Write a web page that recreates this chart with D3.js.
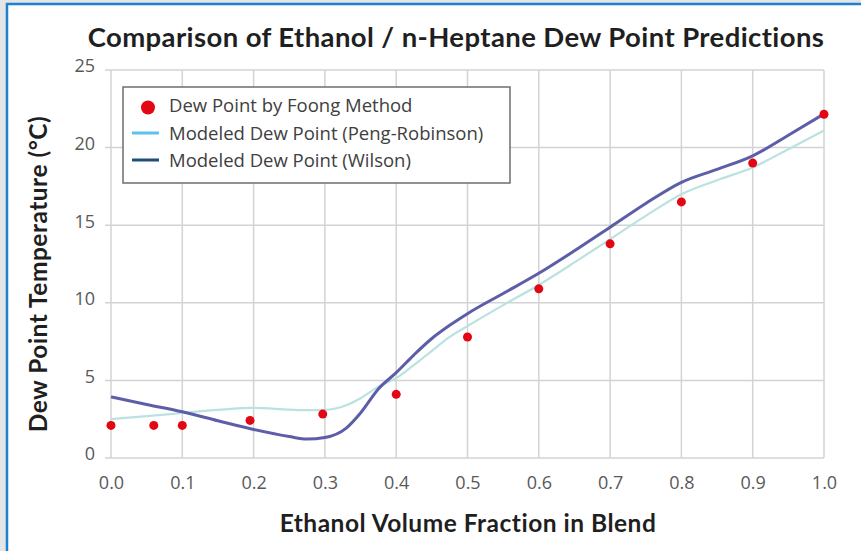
<!DOCTYPE html>
<html>
<head>
<meta charset="utf-8">
<script src="https://cdn.jsdelivr.net/npm/d3@7"></script>
<style>
  html, body { margin: 0; padding: 0; background: #e4e5e7; }
  svg { display: block; }
</style>
</head>
<body>
<div id="container"></div>
<script>
/* CONSTANTS AND GLOBALS */
const width = 861,
  height = 551,
  margin = { top: 70, bottom: 93, left: 111, right: 37 };

// measured dew points (Foong method)
const foongX = [0.0, 0.06, 0.1, 0.195, 0.297, 0.4, 0.5, 0.6, 0.7, 0.8, 0.9, 1.0];
const foongY = [2.1, 2.1, 2.1, 2.42, 2.83, 4.1, 7.8, 10.9, 13.8, 16.5, 19.0, 22.15];

// modeled curves
const modelX = [0, 0.05, 0.1, 0.15, 0.2, 0.25, 0.275, 0.3, 0.33, 0.35, 0.375, 0.4, 0.425, 0.45, 0.475, 0.5, 0.55, 0.6, 0.65, 0.7, 0.75, 0.8, 0.85, 0.9, 0.95, 1.0];
const pengY = [2.5, 2.7, 2.9, 3.1, 3.23, 3.12, 3.08, 3.1, 3.4, 3.85, 4.6, 5.15, 6.0, 6.9, 7.8, 8.5, 9.85, 11.15, 12.6, 14.1, 15.6, 17.0, 17.9, 18.72, 19.9, 21.1];
const wilsonY = [3.94, 3.45, 2.98, 2.4, 1.84, 1.38, 1.22, 1.32, 1.93, 2.9, 4.45, 5.5, 6.65, 7.7, 8.55, 9.3, 10.6, 11.9, 13.35, 14.87, 16.4, 17.76, 18.6, 19.47, 20.8, 22.17];

const xTicks = [0, 0.1, 0.2, 0.3, 0.4, 0.5, 0.6, 0.7, 0.8, 0.9, 1.0];
const yTicks = [0, 5, 10, 15, 20, 25];

const legendLabels = ["Dew Point by Foong Method", "Modeled Dew Point (Peng-Robinson)", "Modeled Dew Point (Wilson)"];

const colors = {
  dot: "#e30613",
  peng: "#b9e2e0",
  wilson: "#5c5ea8",
  pengLegend: "#5cc1ec",
  wilsonLegend: "#1f4e79"
};

const svg = d3.select("#container")
  .append("svg")
  .attr("width", width)
  .attr("height", height);

// frame
svg.append("rect")
  .attr("x", 7).attr("y", 4)
  .attr("width", width + 20).attr("height", height + 20)
  .attr("fill", "#ffffff")
  .attr("stroke", "#1f7fd3")
  .attr("stroke-width", 2.5);

/* SCALES */
const xScale = d3.scaleLinear()
  .domain([0, 1])
  .range([margin.left, width - margin.right]);

const yScale = d3.scaleLinear()
  .domain([0, 25])
  .range([height - margin.bottom, margin.top]);

// gridlines
svg.append("g")
  .selectAll("line.vgrid")
  .data(xTicks)
  .join("line")
  .attr("class", "vgrid")
  .attr("x1", d => xScale(d)).attr("x2", d => xScale(d))
  .attr("y1", yScale(25)).attr("y2", yScale(0))
  .attr("stroke", "#d3d3d3")
  .attr("stroke-width", 1.5);

svg.append("g")
  .selectAll("line.hgrid")
  .data(yTicks)
  .join("line")
  .attr("class", "hgrid")
  .attr("x1", xScale(0) - 6).attr("x2", xScale(1))
  .attr("y1", d => yScale(d)).attr("y2", d => yScale(d))
  .attr("stroke", "#d3d3d3")
  .attr("stroke-width", 1.5);

// axes (labels only)
const xAxis = d3.axisBottom(xScale).tickValues(xTicks).tickFormat(d3.format(".1f")).tickSize(0).tickPadding(18);
const yAxis = d3.axisLeft(yScale).tickValues(yTicks).tickSize(0).tickPadding(16);

const gx = svg.append("g")
  .attr("transform", `translate(0,${yScale(0)})`)
  .call(xAxis);
const gy = svg.append("g")
  .attr("transform", `translate(${xScale(0)},0)`)
  .call(yAxis);

[gx, gy].forEach(g => {
  g.select(".domain").remove();
  g.selectAll("text")
    .attr("fill", "#595959")
    .style("font-family", "'Open Sans', sans-serif")
    .style("font-size", "18px");
});
gy.selectAll("text").attr("dy", "0.1em");

// lines
const line = d3.line()
  .x(d => xScale(d[0]))
  .y(d => yScale(d[1]))
  .curve(d3.curveMonotoneX);

svg.append("path")
  .datum(modelX.map((x, i) => [x, pengY[i]]))
  .attr("d", line)
  .attr("fill", "none")
  .attr("stroke", colors.peng)
  .attr("stroke-width", 2.2);

svg.append("path")
  .datum(modelX.map((x, i) => [x, wilsonY[i]]))
  .attr("d", line)
  .attr("fill", "none")
  .attr("stroke", colors.wilson)
  .attr("stroke-width", 3);

// dots
svg.selectAll("circle.dot")
  .data(foongX.map((x, i) => [x, foongY[i]]))
  .join("circle")
  .attr("class", "dot")
  .attr("cx", d => xScale(d[0]))
  .attr("cy", d => yScale(d[1]))
  .attr("r", 4.5)
  .attr("fill", colors.dot);

// titles
const titleStyle = sel => sel
  .attr("fill", "#1f1f1f")
  .style("font-family", "Lato, sans-serif")
  .style("font-weight", "bold");

svg.append("text")
  .attr("x", 456).attr("y", 47)
  .attr("text-anchor", "middle")
  .call(titleStyle)
  .style("font-size", "27.5px")
  .style("letter-spacing", "0.4px")
  .text("Comparison of Ethanol / n-Heptane Dew Point Predictions");

svg.append("text")
  .attr("x", 468).attr("y", 532)
  .attr("text-anchor", "middle")
  .call(titleStyle)
  .style("font-size", "24.5px")
  .style("letter-spacing", "0.5px")
  .text("Ethanol Volume Fraction in Blend");

svg.append("text")
  .attr("transform", "translate(47,274) rotate(-90)")
  .attr("text-anchor", "middle")
  .call(titleStyle)
  .style("font-size", "24.5px")
  .style("letter-spacing", "0.5px")
  .text("Dew Point Temperature (°C)");

// legend
const legend = svg.append("g").attr("transform", "translate(123,87)");
legend.append("rect")
  .attr("width", 387).attr("height", 96)
  .attr("fill", "#ffffff")
  .attr("stroke", "#6d6d6d")
  .attr("stroke-width", 1.5);

legend.append("circle")
  .attr("cx", 25).attr("cy", 20.5).attr("r", 7)
  .attr("fill", colors.dot);
legend.append("line")
  .attr("x1", 9).attr("x2", 36).attr("y1", 46).attr("y2", 46)
  .attr("stroke", colors.pengLegend).attr("stroke-width", 3);
legend.append("line")
  .attr("x1", 9).attr("x2", 36).attr("y1", 73).attr("y2", 73)
  .attr("stroke", colors.wilsonLegend).attr("stroke-width", 3);

legend.selectAll("text")
  .data(legendLabels)
  .join("text")
  .attr("x", 46)
  .attr("y", (d, i) => 25 + i * 27.5)
  .attr("fill", "#404040")
  .style("font-family", "'Open Sans', sans-serif")
  .style("font-size", "18.5px")
  .text(d => d);
</script>
</body>
</html>
